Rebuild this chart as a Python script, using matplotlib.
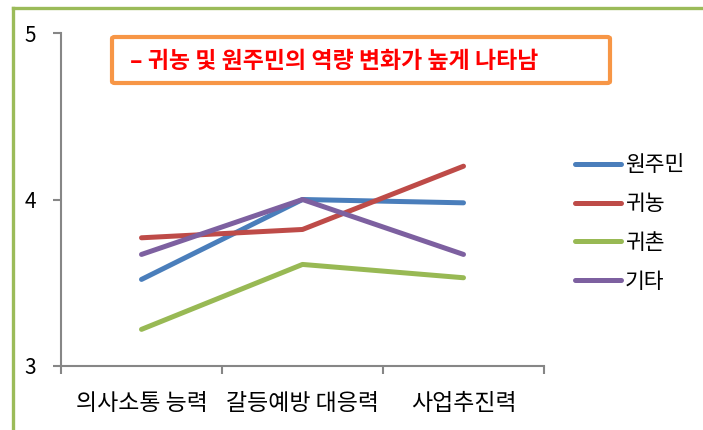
import matplotlib
matplotlib.use("Agg")
import matplotlib.pyplot as plt
from matplotlib.lines import Line2D
from matplotlib.patches import FancyBboxPatch

plt.rcParams['font.family'] = ['Noto Sans CJK KR', 'DejaVu Sans']

# Data
categories = ['의사소통 능력', '갈등예방 대응력', '사업추진력']
series_names = ['원주민', '귀농', '귀촌', '기타']
wonjumin = [3.52, 4.00, 3.98]
gwinong = [3.77, 3.82, 4.20]
gwichon = [3.22, 3.61, 3.53]
gita = [3.67, 4.00, 3.67]
colors = ['#4A7EBB', '#BE4B48', '#98B954', '#7D60A0']
title_text = '– 귀농 및 원주민의 역량 변화가 높게 나타남'

W, H = 703, 430
fig = plt.figure(figsize=(W / 100, H / 100), dpi=100)

# axes placed in pixel terms
left, right, top, bottom = 61, 544, 33, 366
ax = fig.add_axes([left / W, 1 - bottom / H, (right - left) / W, (bottom - top) / H])

x = [0.5, 1.5, 2.5]
for vals, name, c in zip([wonjumin, gwinong, gwichon, gita], series_names, colors):
    ax.plot(x, vals, color=c, lw=3.6, solid_capstyle='round', solid_joinstyle='round', label=name)

ax.set_xlim(0, 3)
ax.set_ylim(3, 5)
ax.set_yticks([3, 4, 5])
ax.set_xticks([0, 1, 2, 3])
ax.set_xticklabels([])
ax.set_xticks(x, minor=True)
ax.set_xticklabels(categories, minor=True)
ax.tick_params(axis='x', which='minor', length=0, pad=19, labelsize=16.5, colors='black')
ax.tick_params(axis='x', which='major', length=6, width=1.5, color='#868686', direction='out')
ax.tick_params(axis='y', length=6, width=1.5, color='#868686', direction='out', labelsize=15, pad=12)
for s in ['top', 'right']:
    ax.spines[s].set_visible(False)
for s in ['left', 'bottom']:
    ax.spines[s].set_color('#868686')
    ax.spines[s].set_linewidth(1.5)

# legend on the right
fig.legend(loc='upper left', bbox_to_anchor=(556 / W, 1 - 135 / H), frameon=False,
           fontsize=15.5, handlelength=2.1, handletextpad=0.2, labelspacing=0.78)

# title box
box = FancyBboxPatch((112 / W, 1 - 83 / H), (610 - 112) / W, (83 - 37) / H,
                     boxstyle='round,pad=0,rounding_size=0.004', transform=fig.transFigure,
                     facecolor='white', edgecolor='#F79646', lw=3)
fig.patches.append(box)
fig.text(130 / W, 1 - 61 / H, title_text, color='#FF0000', fontsize=16.5, fontweight='bold',
         va='center', ha='left')

# green frame on left and top
fig.add_artist(Line2D([13 / W, 13 / W], [0, 1 - 8 / H], transform=fig.transFigure,
                      color='#9BBB59', lw=2.4))
fig.add_artist(Line2D([13 / W, 1], [1 - 8 / H, 1 - 8 / H], transform=fig.transFigure,
                      color='#9BBB59', lw=2.4))

fig.savefig('out.png', dpi=100)
